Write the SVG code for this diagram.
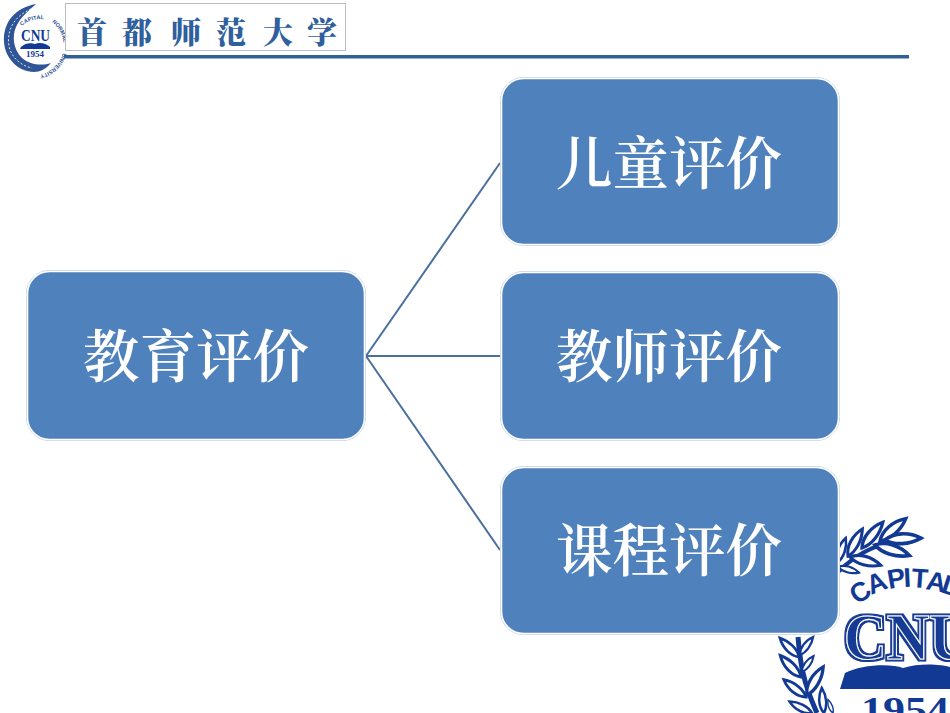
<svg xmlns="http://www.w3.org/2000/svg" width="950" height="713" viewBox="0 0 950 713">
<style>
.box{fill:#4f81bd;stroke:#fff;stroke-width:1.6}
.halo{fill:none;stroke:#c3d1e3;stroke-width:1}
.lbl{font-family:"Noto Serif CJK SC","Noto Sans CJK SC",serif;font-weight:600;font-size:56.500px;fill:#fff;text-anchor:middle}
.conn{stroke:#4a6f9c;stroke-width:2;fill:none}
.logo{fill:#123a94;font-family:"Liberation Serif",serif;font-weight:bold}
.cap{fill:#123a94;font-family:"Liberation Sans",sans-serif;font-weight:bold;font-size:27px}
.sm{fill:#2a4f8f;font-family:"Liberation Sans",sans-serif;font-weight:bold;font-size:5.500px}
.leaf{fill:#fff;stroke:#123a94;stroke-width:3.6}
</style>
<defs>
<path id="leaf" d="M0 0C9-7 24-7 36 0C24 6 9 6 0 0Z"/>
<filter id="rim" x="-5%" y="-5%" width="110%" height="110%">
<feMorphology in="SourceAlpha" operator="dilate" radius="2" result="d"/>
<feFlood flood-color="#123a94"/>
<feComposite in2="d" operator="in"/>
<feMerge><feMergeNode/><feMergeNode in="SourceGraphic"/></feMerge>
</filter>
<path id="a1" d="M22 26C28 20 40 17 49 21"/>
<path id="a2" d="M52 22C60 28 64 38 64 49"/>
<path id="a3" d="M63 53C59 67 45 77 29 76"/>
</defs>
<rect width="950" height="713" fill="#fff"/>
<g id="big-logo">
<path d="M838 572C858 552 880 541 918 538" fill="none" stroke="#123a94" stroke-width="4"/>
<g class="leaf">
<use href="#leaf" transform="translate(880 541) rotate(-41) scale(.95)"/>
<use href="#leaf" transform="translate(862 548) rotate(-51) scale(.92)"/>
<use href="#leaf" transform="translate(848 556) rotate(-62) scale(.85)"/>
<use href="#leaf" transform="translate(838 562) rotate(-72) scale(.7)"/>
<use href="#leaf" transform="translate(885 540) rotate(-3)"/>
<use href="#leaf" transform="translate(875 545) rotate(17)"/>
<use href="#leaf" transform="translate(850 557) rotate(15) scale(.88)"/>
<use href="#leaf" transform="translate(838 567) rotate(15) scale(.6)"/>
</g>
<path d="M798 637C800 660 802 680 817 713" fill="none" stroke="#123a94" stroke-width="5"/>
<g class="leaf">
<use href="#leaf" transform="translate(799 657) rotate(-135) scale(.75)"/>
<use href="#leaf" transform="translate(801 677) rotate(-134) scale(.83)"/>
<use href="#leaf" transform="translate(806 697) rotate(-142) scale(.78)"/>
<use href="#leaf" transform="translate(812 713) rotate(-153) scale(.7)"/>
<use href="#leaf" transform="translate(800 655) rotate(-54) scale(.62)"/>
<use href="#leaf" transform="translate(802 672) rotate(-54) scale(.55)"/>
<use href="#leaf" transform="translate(807 695) rotate(-60) scale(.9)"/>
<use href="#leaf" transform="translate(824 713) rotate(-95) scale(.7)"/>
<use href="#leaf" transform="translate(833 713) rotate(-110) scale(.4)"/>
</g>
<text class="cap" transform="translate(857 605) rotate(-33)">C</text>
<text class="cap" transform="translate(871 595) rotate(-22)">A</text>
<text class="cap" transform="translate(889 589) rotate(-10)">P</text>
<text class="cap" transform="translate(904 587) rotate(-3)">I</text>
<text class="cap" transform="translate(911 587) rotate(4)">T</text>
<text class="cap" transform="translate(925 589) rotate(11)">A</text>
<text class="cap" transform="translate(940 592) rotate(18)">L</text>
<text class="logo" font-size="66" x="844" y="659" textLength="128" lengthAdjust="spacingAndGlyphs" stroke="#fff" stroke-width="1.200" filter="url(#rim)">CNU</text>
<path d="M845 673C860 665 890 663 903 668C918 663 940 664 950 667V689H840Z" fill="#123a94"/>
<text class="logo" font-size="36" x="861" y="722" textLength="88" lengthAdjust="spacingAndGlyphs">1954</text>
</g>
<g id="small-logo">
<path d="M36 4C15 8 3 22 4 42C5 58 18 72 34 72C40 72 46 69 51 63C42 66 30 65 22 58C13 49 12 36 16 27C20 18 28 11 36 4Z" fill="#2f5597"/>
<path d="M31 9C15 16 8 28 8.500 42C9 54 18 65 32 68" fill="none" stroke="#dfe7f2" stroke-width="1" stroke-dasharray="2 2"/>
<text class="sm"><textPath href="#a1">CAPITAL</textPath></text>
<text class="sm"><textPath href="#a2">NORMAL</textPath></text>
<text class="sm"><textPath href="#a3">UNIVERSITY</textPath></text>
<text class="logo" font-size="16" x="21" y="41" textLength="29" lengthAdjust="spacingAndGlyphs">CNU</text>
<path d="M21 47C26 42 32 43 35 44C39 42 46 43 50 47V49H20Z" fill="#123a94"/>
<text class="logo" font-size="9" x="26" y="57" textLength="18" lengthAdjust="spacingAndGlyphs" fill="#3b4f78">1954</text>
</g>
<g id="header">
<rect x="65.500" y="3.500" width="280" height="47" fill="#fff" stroke="#bdbdbd" stroke-width="1"/>
<text x="77 122 171 216 263 307" y="43" font-family="'Noto Serif CJK SC','Noto Sans CJK SC',serif" font-size="30" font-weight="900" fill="#2f5f9d">首都师范大学</text>
<rect x="64" y="55" width="845" height="3.500" fill="#2f6199"/>
</g>
<g id="connectors" class="conn">
<path d="M366 356L500 163"/>
<path d="M366 356H500"/>
<path d="M366 356L500 550"/>
</g>
<g id="node-main">
<rect class="halo" x="26.500" y="270.500" width="339" height="170" rx="23"/>
<rect class="box" x="27.500" y="271.500" width="337" height="168" rx="22"/>
<text class="lbl" x="196" y="377">教育评价</text>
</g>
<g id="node-child">
<rect class="halo" x="500.500" y="77.500" width="339" height="168" rx="23"/>
<rect class="box" x="501.500" y="78.500" width="337" height="166" rx="22"/>
<text class="lbl" x="669" y="184">儿童评价</text>
</g>
<g id="node-teacher">
<rect class="halo" x="500.500" y="271.500" width="339" height="169" rx="23"/>
<rect class="box" x="501.500" y="272.500" width="337" height="167" rx="22"/>
<text class="lbl" x="669" y="377">教师评价</text>
</g>
<g id="node-course">
<rect class="halo" x="500.500" y="466.500" width="339" height="168" rx="23"/>
<rect class="box" x="501.500" y="467.500" width="337" height="166" rx="22"/>
<text class="lbl" x="669" y="571">课程评价</text>
</g>
</svg>
